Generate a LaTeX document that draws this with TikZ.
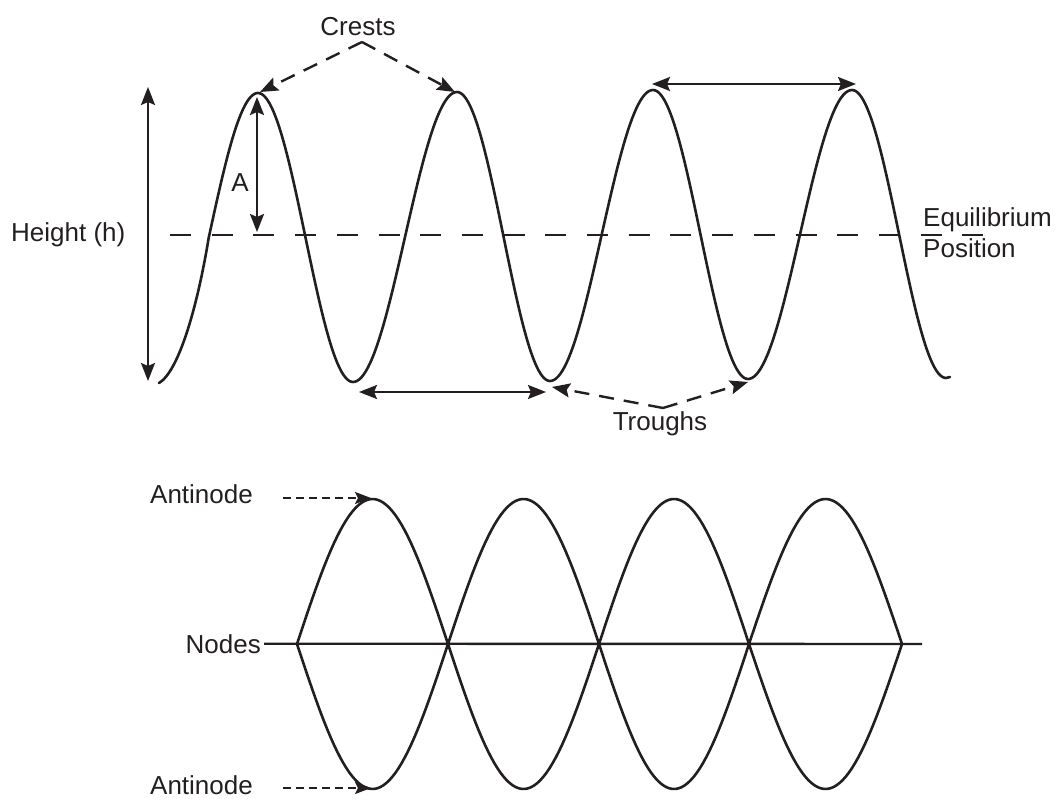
\documentclass[tikz,border=0pt]{standalone}
\usepackage{fontspec}
\setmainfont{Liberation Sans}
\usetikzlibrary{arrows.meta}
\definecolor{ink}{HTML}{231F20}
\begin{document}
\begin{tikzpicture}[x=1pt,y=-1pt,
  lbl/.style={inner sep=0pt, font=\fontsize{26}{30}\selectfont, text=ink},
  wave/.style={draw=ink, line width=2.6pt, line join=round, line cap=round},
  dimarrow/.style={draw=ink, line width=2.4pt, {Stealth[length=18pt,width=14pt,inset=3pt]}-{Stealth[length=18pt,width=14pt,inset=3pt]}},
  pointer/.style={draw=ink, line width=2.4pt, dash pattern=on 15pt off 10pt, -{Stealth[length=18pt,width=14pt,inset=3pt]}},
  dotpointer/.style={draw=ink, line width=2.2pt, dash pattern=on 8pt off 5pt, -{Stealth[length=16pt,width=12pt,inset=3pt]}},
  eqline/.style={draw=ink, line width=2.4pt, dash pattern=on 21pt off 20.7pt},
  axisline/.style={draw=ink, line width=2.4pt}
]
\useasboundingbox (0,0) rectangle (1055,799);

% ---------- travelling wave ----------
\draw[wave] (159,383) .. controls (178,372) and (197,310) .. (209,236)
  -- plot[domain=0:1,samples=30,variable=\t] ({209+49*\t},{236.5-143.5*sin(90*\t)})
  -- plot[domain=0:1,samples=50,variable=\t] ({258+95*\t},{237.5-144.5*cos(180*\t)})
  -- plot[domain=0:1,samples=50,variable=\t] ({353+104*\t},{237+145*cos(180*\t)})
  -- plot[domain=0:1,samples=50,variable=\t] ({457+93*\t},{236.5-144.5*cos(180*\t)})
  -- plot[domain=0:1,samples=50,variable=\t] ({550+103*\t},{235.5+145.5*cos(180*\t)})
  -- plot[domain=0:1,samples=50,variable=\t] ({653+95*\t},{234.5-144.5*cos(180*\t)})
  -- plot[domain=0:1,samples=50,variable=\t] ({748+104*\t},{234.5+144.5*cos(180*\t)})
  -- plot[domain=0:1,samples=50,variable=\t] ({852+94*\t},{234-144*cos(180*\t)})
  -- (950,377);

% equilibrium line
\coordinate (eqL) at (170,235);
\coordinate (eqR) at (986,235);
\draw[eqline] (eqL) -- (eqR);

% labels
\node[lbl, anchor=base] (crests) at (358,36) {Crests};
\node[lbl, anchor=base] (amp) at (240,192) {A};
\node[lbl, anchor=base west] (height) at (11,242) {Height (h)};
\node[lbl, anchor=base west] (equi) at (923,227) {Equilibrium};
\node[lbl, anchor=base west] (posi) at (923,258) {Position};
\node[lbl, anchor=base] (troughs) at (660,431) {Troughs};

% height arrow
\coordinate (hTop) at (148,87);
\coordinate (hBot) at (148,381);
\draw[dimarrow] (hTop) -- (hBot);

% amplitude arrow
\coordinate (aTop) at (257,97);
\coordinate (aBot) at (257,232);
\draw[dimarrow] (aTop) -- (aBot);

% crest pointers
\coordinate (cApex) at (362,42);
\coordinate (crest1) at (260,92);
\coordinate (crest2) at (455,92);
\draw[pointer] (cApex) -- (crest1);
\draw[pointer] (cApex) -- (crest2);

% trough pointers
\coordinate (tApex) at (663,408);
\coordinate (trough2) at (552,387);
\coordinate (trough3) at (748,382);
\draw[pointer] (tApex) -- (trough2);
\draw[pointer] (tApex) -- (trough3);

% wavelength arrows
\coordinate (wlTopL) at (652,84);
\coordinate (wlTopR) at (856,84);
\draw[dimarrow] (wlTopL) -- (wlTopR);
\coordinate (wlBotL) at (359,392);
\coordinate (wlBotR) at (546,392);
\draw[dimarrow] (wlBotL) -- (wlBotR);

% ---------- standing wave ----------
\node[lbl, anchor=base east, inner xsep=3pt] (nodes) at (264,653) {Nodes};
\coordinate (lineR) at (922,644);
\draw[axisline] (nodes.east) -- (lineR);

\draw[wave] (297,644)
  -- plot[domain=0:1,samples=50,variable=\t] ({297+151*\t},{644-145*sin(180*\t)})
  -- plot[domain=0:1,samples=50,variable=\t] ({448+151*\t},{644+145*sin(180*\t)})
  -- plot[domain=0:1,samples=50,variable=\t] ({599+150*\t},{644-145*sin(180*\t)})
  -- plot[domain=0:1,samples=50,variable=\t] ({749+153*\t},{644+145*sin(180*\t)});
\draw[wave] (297,644)
  -- plot[domain=0:1,samples=50,variable=\t] ({297+151*\t},{644+145*sin(180*\t)})
  -- plot[domain=0:1,samples=50,variable=\t] ({448+151*\t},{644-145*sin(180*\t)})
  -- plot[domain=0:1,samples=50,variable=\t] ({599+150*\t},{644+145*sin(180*\t)})
  -- plot[domain=0:1,samples=50,variable=\t] ({749+153*\t},{644-145*sin(180*\t)});

% antinode labels
\node[lbl, anchor=base west] (anti1) at (150,503) {Antinode};
\node[lbl, anchor=base west] (anti2) at (150,794) {Antinode};
\coordinate (an1Start) at (283,498);
\coordinate (an1Tip) at (371,498);
\coordinate (an2Start) at (283,788);
\coordinate (an2Tip) at (371,788);
\draw[dotpointer] (an1Start) -- (an1Tip);
\draw[dotpointer] (an2Start) -- (an2Tip);
\end{tikzpicture}
\end{document}
